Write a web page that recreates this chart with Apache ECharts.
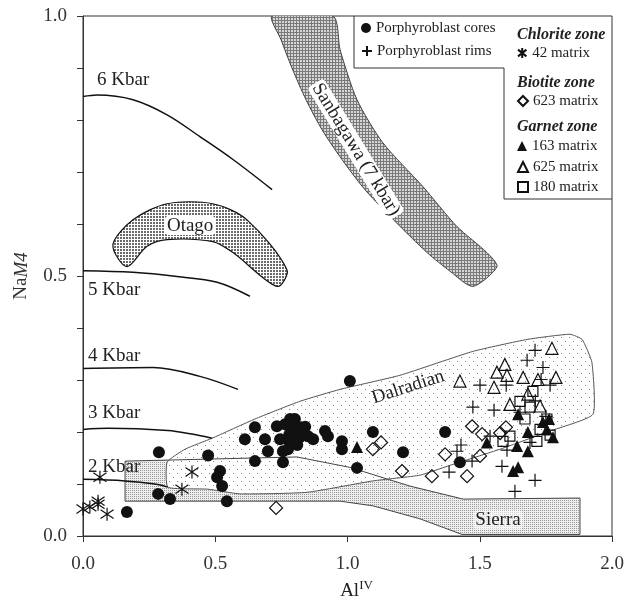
<!DOCTYPE html>
<html><head><meta charset="utf-8">
<script src="https://cdn.jsdelivr.net/npm/echarts@6/dist/echarts.min.js"></script>
<style>html,body{margin:0;padding:0;background:#fff}#c{width:636px;height:598px}</style>
</head><body><div id="c"></div>
<script>
// ---------- tick labels ----------
const xTicks = ['0.0','0.5','1.0','1.5','2.0'];
const yTicks = ['0.0','0.5','1.0'];

// ---------- point data [AlIV, NaM4] ----------
const cores = [[0.287,0.161],[0.166,0.046],[0.284,0.081],[0.329,0.071],[0.473,0.155],[0.518,0.125],[0.507,0.113],[0.526,0.096],[0.544,0.067],[0.612,0.186],[0.650,0.209],[0.688,0.186],[0.699,0.163],[0.650,0.144],[0.733,0.211],[0.756,0.163],[0.756,0.142],[0.783,0.225],[0.790,0.205],[0.794,0.180],[0.820,0.190],[0.851,0.192],[0.870,0.186],[0.915,0.202],[0.926,0.192],[0.979,0.182],[0.979,0.167],[1.036,0.131],[1.096,0.200],[1.210,0.161],[1.009,0.298],[0.809,0.205],[0.771,0.186],[1.369,0.200],[1.425,0.142],[0.764,0.215],[0.801,0.225],[0.820,0.209],[0.745,0.186],[0.775,0.167],[0.800,0.215],[0.830,0.200],[0.780,0.195],[0.810,0.175],[0.840,0.210]];
const rims = [[1.709,0.357],[1.679,0.338],[1.501,0.290],[1.474,0.248],[1.554,0.242],[1.652,0.238],[1.739,0.324],[1.766,0.290],[1.732,0.301],[1.414,0.163],[1.429,0.175],[1.471,0.144],[1.384,0.123],[1.584,0.134],[1.603,0.165],[1.690,0.180],[1.633,0.086],[1.709,0.107],[1.539,0.192],[1.600,0.290],[1.710,0.260],[1.750,0.230]];
const chlorite42 = [[0.000,0.052],[0.026,0.056],[0.057,0.061],[0.057,0.067],[0.091,0.042],[0.064,0.113],[0.374,0.090],[0.412,0.123]];
const biotite623 = [[0.730,0.054],[1.096,0.167],[1.127,0.180],[1.206,0.125],[1.319,0.115],[1.452,0.115],[1.369,0.157],[1.501,0.154],[1.471,0.211],[1.509,0.196],[1.577,0.198],[1.599,0.209]];
const garnet163 = [[1.036,0.171],[1.527,0.180],[1.645,0.234],[1.682,0.200],[1.739,0.219],[1.754,0.205],[1.641,0.173],[1.682,0.163],[1.626,0.125],[1.645,0.132],[1.762,0.225],[1.777,0.190]];
const garnet625 = [[1.773,0.361],[1.595,0.330],[1.565,0.315],[1.603,0.309],[1.664,0.305],[1.720,0.301],[1.788,0.305],[1.425,0.298],[1.554,0.286],[1.614,0.253],[1.728,0.250],[1.682,0.273]];
const garnet180 = [[1.701,0.278],[1.652,0.259],[1.690,0.248],[1.754,0.225],[1.766,0.194],[1.728,0.205],[1.588,0.182],[1.614,0.192],[1.716,0.182],[1.671,0.225]];

// ---------- isobar curves ----------
const kbarNames = ['6 Kbar','5 Kbar','4 Kbar','3 Kbar','2 Kbar'];
const kbar6 = [[0,0.845],[0.053,0.848],[0.189,0.839],[0.318,0.810],[0.442,0.768],[0.567,0.724],[0.715,0.666]];
const kbar5 = [[0,0.510],[0.189,0.507],[0.355,0.499],[0.507,0.488],[0.631,0.461]];
const kbar4 = [[0,0.322],[0.265,0.324],[0.442,0.307],[0.586,0.282]];
const kbar3 = [[0,0.205],[0.095,0.207],[0.321,0.203],[0.412,0.196],[0.488,0.188]];
const kbar2 = [[0,0.109],[0.159,0.106],[0.272,0.100],[0.321,0.094]];

// ---------- field outlines ----------
const regionNames = ['Otago','Sanbagawa (7 kbar)','Dalradian','Sierra'];
const sanbagawa = [[0.715,1.0],[0.749,0.954],[0.790,0.900],[0.843,0.839],[0.904,0.781],[0.979,0.724],[1.066,0.666],[1.180,0.605],[1.301,0.545],[1.388,0.509],[1.474,0.480],[1.565,0.518],[1.527,0.545],[1.414,0.595],[1.285,0.672],[1.134,0.756],[1.036,0.839],[0.972,0.935],[0.945,1.0]];
const otago = [[0.113,0.560],[0.189,0.608],[0.318,0.639],[0.491,0.639],[0.620,0.608],[0.771,0.512],[0.733,0.480],[0.567,0.545],[0.491,0.566],[0.318,0.570],[0.242,0.557],[0.166,0.518]];
const dalradian = [[0.318,0.142],[0.386,0.167],[0.488,0.188],[0.650,0.225],[0.820,0.259],[0.972,0.282],[1.198,0.309],[1.474,0.355],[1.679,0.378],[1.841,0.388],[1.887,0.378],[1.924,0.334],[1.928,0.234],[1.766,0.202],[1.577,0.167],[1.388,0.136],[1.274,0.117],[1.096,0.106],[0.847,0.084],[0.594,0.081],[0.473,0.090],[0.321,0.094]];
const sierra = [[0.159,0.144],[0.809,0.152],[1.009,0.132],[1.236,0.096],[1.437,0.071],[1.879,0.073],[1.879,0.003],[1.433,0.003],[1.274,0.033],[1.096,0.058],[0.972,0.067],[0.159,0.067]];

// ---------- label placement (layout) ----------
const kbarLabelAt = [[0.053,0.877],[0.019,0.474],[0.019,0.347],[0.019,0.236],[0.019,0.132]];
const regionLabelAt = [
  {at:[0.405,0.597], rot:0, bg:'#fff'},
  {at:[1.032,0.743], rot:-58.5, bg:'#fff'},
  {at:[1.229,0.286], rot:18, bg:null},
  {at:[1.569,0.031], rot:0, bg:'rgba(255,255,255,0.55)'}
];

const SERIF = '"Liberation Serif","Times New Roman",serif';
const INK = '#111';

function makePattern(size, bg, dots){
  const c = document.createElement('canvas'); c.width = c.height = size;
  const g = c.getContext('2d'); g.fillStyle = bg; g.fillRect(0,0,size,size);
  dots.forEach(d => { g.fillStyle = d[3]; g.fillRect(d[0], d[1], d[2], d[2]); });
  return {image: c, repeat: 'repeat'};
}
const patSanb = makePattern(3, '#7a7a7a', [[0,0,2,'#d6d6d6']]);
const patOtago = makePattern(3, '#ffffff', [[0,0,2,'#6a6a6a']]);
const patSierra = makePattern(2, '#eeeeee', [[0,0,1,'#999999']]);
const patDal = makePattern(8, '#ffffff', [[1,1,1,'#888888'],[5,5,1,'#888888']]);

function poly(name, pts, style, z, smooth){
  return {
    type:'custom', name, coordinateSystem:'cartesian2d', silent:true, z, clip:true,
    data:[[0,0]],
    renderItem(params, api){
      return {type:'polygon', shape:{points: pts.map(p => api.coord(p)), smooth: smooth || 0}, style};
    }
  };
}
function kbarLine(name, data){
  return {type:'line', name, data, smooth:0.35, symbol:'none', z:4, silent:true,
    lineStyle:{color:INK, width:1.5}};
}
const openStyle = {color:'rgba(0,0,0,0)', borderColor:INK, borderWidth:1.2, opacity:1};
const solidStyle = {color:INK, opacity:1};
const PLUS = 'path://M5 0 L5 10 M0 5 L10 5';
const STAR = 'path://M5 0 L5 10 M0.8 1.6 L9.2 8.4 M0.8 8.4 L9.2 1.6';

const series = [
  poly('Sanbagawa', sanbagawa, {fill:patSanb, stroke:'#444', lineWidth:1}, 1, 0.25),
  poly('Otago', otago, {fill:patOtago, stroke:'#111', lineWidth:1.2}, 1, 0.3),
  poly('SierraFill', sierra, {fill:patSierra, stroke:'none'}, 1, 0),
  poly('DalFill', dalradian, {fill:patDal, stroke:'none'}, 2, 0.15),
  poly('SierraLine', sierra, {fill:'none', stroke:'#444', lineWidth:1}, 3, 0),
  poly('DalLine', dalradian, {fill:'none', stroke:'#555', lineWidth:1}, 3, 0.15),
  kbarLine(kbarNames[0], kbar6), kbarLine(kbarNames[1], kbar5), kbarLine(kbarNames[2], kbar4),
  kbarLine(kbarNames[3], kbar3), kbarLine(kbarNames[4], kbar2),
  {
    type:'custom', name:'kbarLabels', coordinateSystem:'cartesian2d', silent:true, z:5,
    data: kbarNames.map((n,i) => [i, 0]),
    renderItem(params, api){
      const i = params.dataIndex, p = api.coord(kbarLabelAt[i]);
      return {type:'text', x:p[0], y:p[1], style:{text:kbarNames[i], font:'19px '+SERIF, fill:'#222', align:'left', verticalAlign:'middle'}};
    }
  },
  {
    type:'custom', name:'regionLabels', coordinateSystem:'cartesian2d', silent:true, z:5,
    data: regionNames.map((n,i) => [i, 0]),
    renderItem(params, api){
      const i = params.dataIndex, L = regionLabelAt[i], p = api.coord(L.at);
      const st = {text:regionNames[i], font:'19px '+SERIF, fill:'#222', align:'center', verticalAlign:'middle'};
      if (L.bg) { st.backgroundColor = L.bg; st.padding = [0,2,0,2]; st.borderRadius = 4; }
      return {type:'text', x:p[0], y:p[1], rotation: L.rot*Math.PI/180, style: st};
    }
  },
  {type:'scatter', name:'Porphyroblast cores', data:cores, symbol:'circle', symbolSize:12, z:6, itemStyle:solidStyle},
  {type:'scatter', name:'Porphyroblast rims', data:rims, symbol:PLUS, symbolSize:13, z:6, itemStyle:openStyle},
  {type:'scatter', name:'42 matrix', data:chlorite42, symbol:STAR, symbolSize:13, z:6, itemStyle:openStyle},
  {type:'scatter', name:'623 matrix', data:biotite623, symbol:'diamond', symbolSize:[13,13], z:6, itemStyle:openStyle},
  {type:'scatter', name:'163 matrix', data:garnet163, symbol:'triangle', symbolSize:12, z:6, itemStyle:solidStyle},
  {type:'scatter', name:'625 matrix', data:garnet625, symbol:'triangle', symbolSize:12, z:6, itemStyle:openStyle},
  {type:'scatter', name:'180 matrix', data:garnet180, symbol:'rect', symbolSize:10, z:6, itemStyle:openStyle}
];

function lg(name, left, cy){
  return {data:[name], left, top: cy - 7.5, padding:0, itemGap:0, itemWidth:10, itemHeight:10,
    selectedMode:false, textStyle:{fontFamily:SERIF, fontSize:15, color:'#222'}};
}
const heading = (t, cy) => ({type:'text', left:517, top:cy-9, style:{text:t, font:'italic bold 16px '+SERIF, fill:'#222'}});

const chart = echarts.init(document.getElementById('c'), null, {renderer:'canvas'});
chart.setOption({
  animation:false,
  backgroundColor:'#fff',
  grid:{left:83, right:24, top:16, bottom:62, show:true, borderColor:'#333', borderWidth:1, backgroundColor:'transparent', containLabel:false, outerBoundsMode:'none'},
  xAxis:{type:'value', min:0, max:2, interval:0.5,
    name:'{n|Al}{s|IV}', nameLocation:'middle', nameGap:38,
    nameTextStyle:{padding:[0,0,0,18], rich:{n:{fontFamily:SERIF, fontSize:19, color:'#222', lineHeight:24}, s:{fontFamily:SERIF, fontSize:13, color:'#222', lineHeight:13, verticalAlign:'top'}}},
    axisLine:{show:true, lineStyle:{color:'#333'}}, axisTick:{show:true, length:6, lineStyle:{color:'#333'}},
    splitLine:{show:false},
    axisLabel:{margin:19, fontFamily:SERIF, fontSize:19, color:'#333', formatter:v => { const s=v.toFixed(1); return xTicks.includes(s)?s:''; }}
  },
  yAxis:{type:'value', min:0, max:1, interval:0.1,
    name:'{n|Na}{i|M4}', nameLocation:'middle', nameGap:52, nameRotate:90,
    nameTextStyle:{rich:{n:{fontFamily:SERIF, fontSize:19, color:'#333'}, i:{fontFamily:SERIF, fontSize:19, fontStyle:'italic', color:'#333'}}},
    axisLine:{show:true, lineStyle:{color:'#333'}}, axisTick:{show:true, length:6, lineStyle:{color:'#333'}},
    splitLine:{show:false},
    axisLabel:{margin:16, fontFamily:SERIF, fontSize:19, color:'#333', formatter:v => { const s=v.toFixed(1); return yTicks.includes(s)?s:''; }}
  },
  legend:[
    lg('Porphyroblast cores', 361, 28),
    lg('Porphyroblast rims', 361, 51),
    lg('42 matrix', 517, 53),
    lg('623 matrix', 517, 101),
    lg('163 matrix', 517, 146),
    lg('625 matrix', 517, 167),
    lg('180 matrix', 517, 187)
  ],
  graphic:[
    {type:'polyline', z:100, shape:{points:[[354,16],[354,68],[504,68],[504,199],[612,199]]}, style:{fill:'none', stroke:'#333', lineWidth:1}},
    heading('Chlorite zone', 36),
    heading('Biotite zone', 84),
    heading('Garnet zone', 128)
  ],
  series
});
</script></body></html>
